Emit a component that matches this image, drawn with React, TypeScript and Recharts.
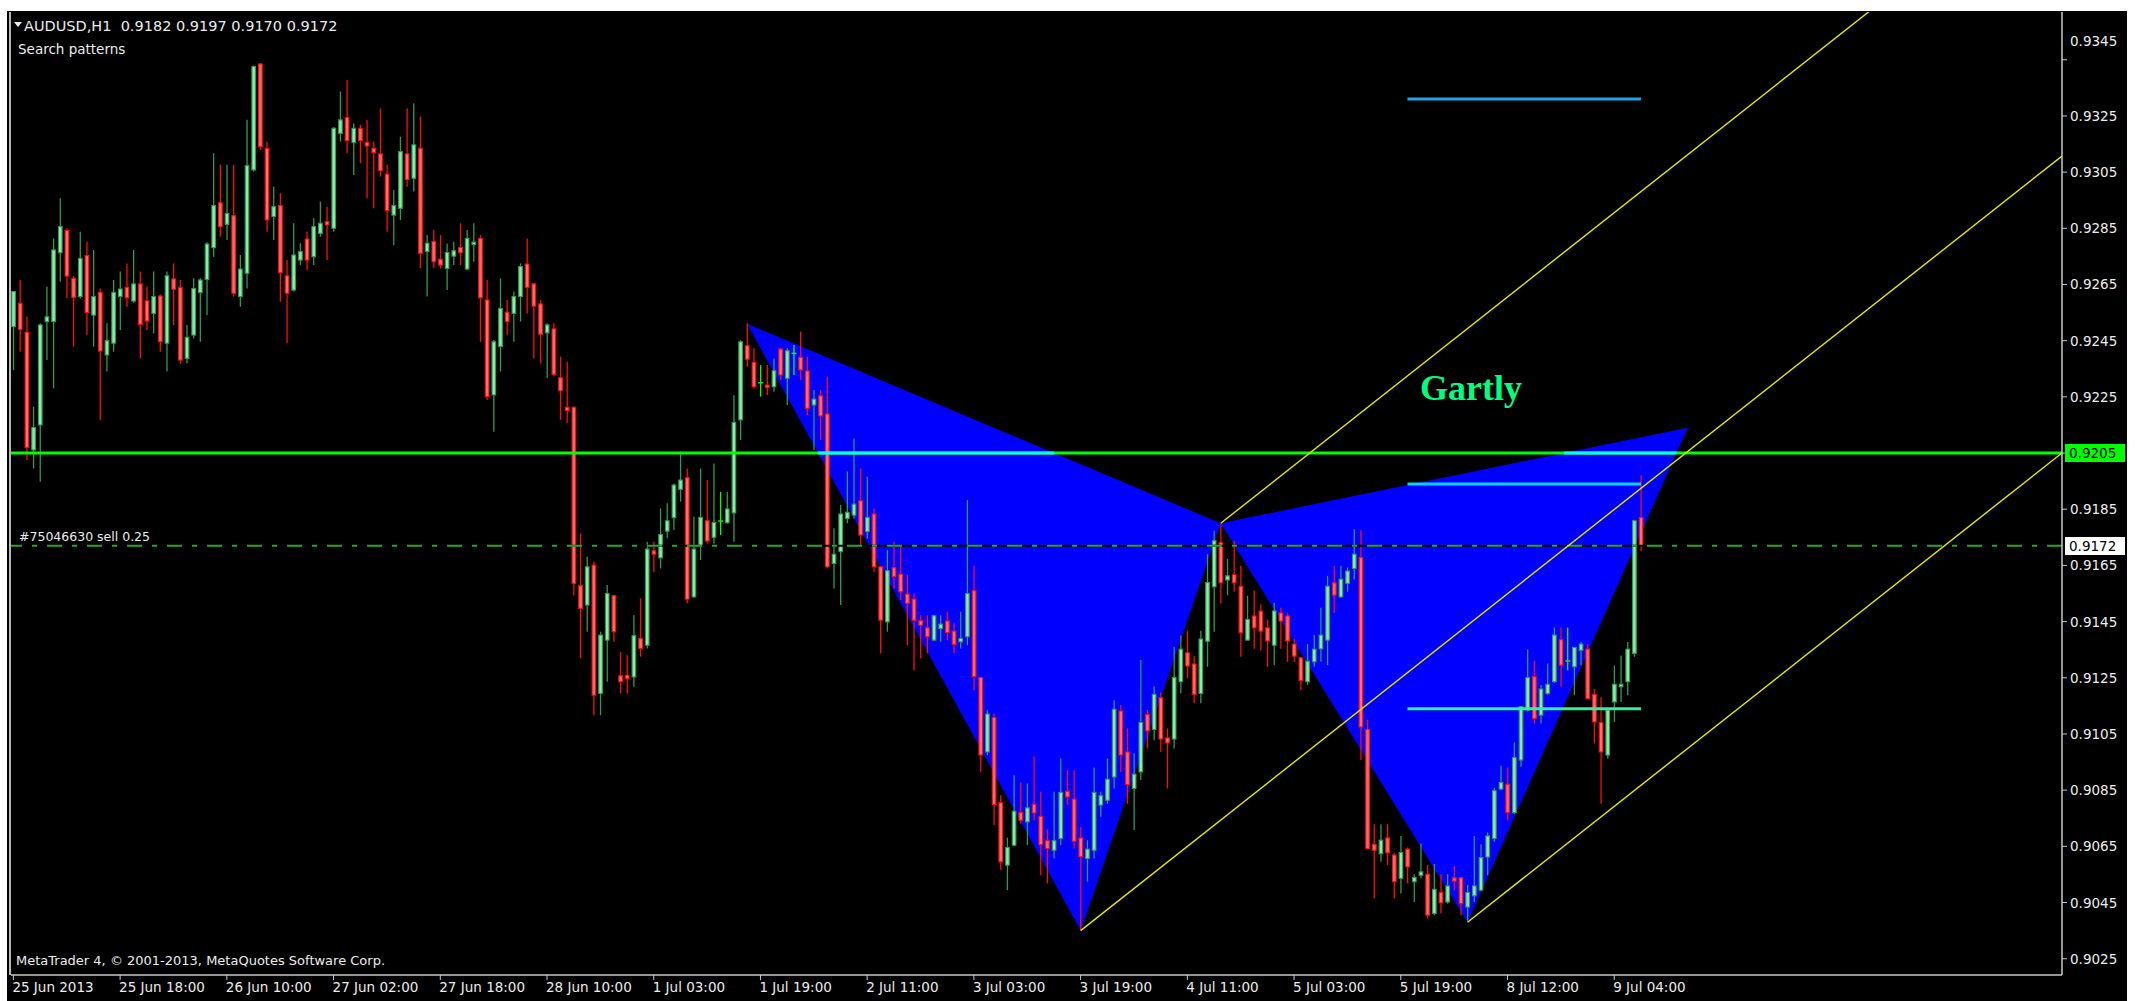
import React from "react";
import { ComposedChart, Bar, Area, XAxis, YAxis, ReferenceLine } from "recharts";

const W = 2141;
const H = 1001;
const PLOT = { left: 11, right: 2062, top: 12, bottom: 975 };
const X_DOMAIN: [number, number] = [-0.36, 307.13];
const Y_DOMAIN: [number, number] = [0.90192, 0.9362];

const FONT = "'DejaVu Sans', sans-serif";
const TEXT = "#ececec";
const AXIS = "#c8c8c8";

// AUDUSD H1 bars, 25 Jun 2013 .. 9 Jul 2013 08:00
const opens = [
  0.925, 0.92583, 0.9248, 0.92061, 0.9215, 0.92518, 0.92518, 0.92763, 0.92842, 0.92672,
  0.92607, 0.92753, 0.92541, 0.92622, 0.92399, 0.92441, 0.92607, 0.9264, 0.92591, 0.92652,
  0.92592, 0.92547, 0.92609, 0.92441, 0.9267, 0.92639, 0.92387, 0.9247, 0.92621, 0.92668,
  0.92781, 0.92941, 0.92864, 0.92895, 0.92607, 0.9269, 0.93058, 0.93435, 0.93135, 0.92892,
  0.92931, 0.92681, 0.9263, 0.92737, 0.92812, 0.92749, 0.92832, 0.92874, 0.9285, 0.93188,
  0.93245, 0.93155, 0.93206, 0.93156, 0.93135, 0.93115, 0.93043, 0.92897, 0.92921, 0.93115,
  0.93028, 0.93135, 0.92767, 0.92803, 0.9274, 0.92707, 0.92751, 0.92782, 0.92705, 0.92792,
  0.92814, 0.92595, 0.92257, 0.92429, 0.92551, 0.92547, 0.92607, 0.92723, 0.92652, 0.92581,
  0.92478, 0.92492, 0.92318, 0.92213, 0.92213, 0.91578, 0.91509, 0.91651, 0.91194, 0.91384,
  0.91542, 0.91257, 0.91259, 0.91253, 0.9139, 0.91366, 0.91702, 0.91677, 0.91772, 0.9182,
  0.91921, 0.91962, 0.91538, 0.9172, 0.91809, 0.9175, 0.91808, 0.91802, 0.91837, 0.92168,
  0.92432, 0.92373, 0.923, 0.92292, 0.92286, 0.9242, 0.92316, 0.92405, 0.92391, 0.92342,
  0.92221, 0.92254, 0.92189, 0.91657, 0.91699, 0.91817, 0.91829, 0.9188, 0.9177, 0.91833,
  0.91645, 0.91449, 0.91642, 0.91619, 0.91548, 0.9153, 0.91453, 0.91428, 0.91384, 0.91425,
  0.91452, 0.91416, 0.91378, 0.91396, 0.9156, 0.91251, 0.90986, 0.91109, 0.90805, 0.90583,
  0.90654, 0.9077, 0.90737, 0.908, 0.90757, 0.9067, 0.90636, 0.90678, 0.90846, 0.90818,
  0.9068, 0.90607, 0.90636, 0.90797, 0.90814, 0.90897, 0.91132, 0.90986, 0.90856, 0.90915,
  0.91119, 0.91066, 0.91179, 0.91036, 0.91032, 0.91236, 0.91339, 0.91299, 0.91194, 0.9138,
  0.91574, 0.91732, 0.91598, 0.91618, 0.91576, 0.91384, 0.9147, 0.91487, 0.91428, 0.91366,
  0.91481, 0.9147, 0.9137, 0.91321, 0.91236, 0.91307, 0.91353, 0.91384, 0.91588, 0.91538,
  0.91586, 0.91639, 0.91678, 0.91066, 0.90657, 0.90624, 0.9068, 0.90619, 0.90536, 0.9064,
  0.90524, 0.90547, 0.90551, 0.90411, 0.90486, 0.90452, 0.90538, 0.90538, 0.90434, 0.90474,
  0.90494, 0.90612, 0.90678, 0.90854, 0.90871, 0.9077, 0.90957, 0.91135, 0.91254, 0.91117,
  0.91194, 0.91236, 0.91386, 0.9131, 0.91289, 0.91348, 0.91352, 0.91191, 0.91091, 0.90975,
  0.91164, 0.91218, 0.91236, 0.91337, 0.9182,
];
const highs = [
  0.92625, 0.92666, 0.92535, 0.92215, 0.92512, 0.92642, 0.92814, 0.92957, 0.9285, 0.9268,
  0.92838, 0.92803, 0.92773, 0.92636, 0.92512, 0.92666, 0.92696, 0.92725, 0.92773, 0.92696,
  0.92642, 0.92696, 0.92615, 0.92696, 0.92725, 0.92666, 0.92506, 0.92672, 0.92672, 0.928,
  0.93117, 0.93076, 0.93076, 0.93076, 0.92755, 0.93236, 0.9343, 0.93438, 0.93159, 0.92998,
  0.92975, 0.92737, 0.92868, 0.92797, 0.92838, 0.92886, 0.92945, 0.92927, 0.9321, 0.93337,
  0.93378, 0.93224, 0.93218, 0.93236, 0.93159, 0.93277, 0.93076, 0.92986, 0.93176, 0.93277,
  0.93295, 0.93248, 0.92826, 0.92844, 0.92826, 0.92796, 0.92802, 0.92868, 0.92844, 0.92868,
  0.92826, 0.92666, 0.92452, 0.92672, 0.92595, 0.92625, 0.92725, 0.92814, 0.92655, 0.92595,
  0.92512, 0.92512, 0.92393, 0.92375, 0.92215, 0.91764, 0.91681, 0.91663, 0.91414, 0.9158,
  0.91545, 0.91342, 0.9133, 0.91473, 0.91533, 0.91734, 0.91734, 0.91853, 0.91871, 0.91942,
  0.92055, 0.91995, 0.91823, 0.91995, 0.91954, 0.92013, 0.91912, 0.91912, 0.92256, 0.92452,
  0.92512, 0.92423, 0.92363, 0.92363, 0.92387, 0.92425, 0.92423, 0.92435, 0.92482, 0.92393,
  0.92274, 0.92274, 0.92322, 0.91782, 0.91865, 0.91984, 0.92102, 0.91995, 0.91966, 0.91853,
  0.91648, 0.91705, 0.91734, 0.91722, 0.91616, 0.9155, 0.91473, 0.91473, 0.91474, 0.91473,
  0.91485, 0.91444, 0.91485, 0.91883, 0.91649, 0.91254, 0.91135, 0.91123, 0.90832, 0.90681,
  0.90903, 0.90877, 0.90874, 0.90969, 0.90844, 0.9071, 0.90844, 0.90963, 0.90921, 0.90921,
  0.90719, 0.90672, 0.90931, 0.90844, 0.90963, 0.9117, 0.91153, 0.9107, 0.90981, 0.91313,
  0.91136, 0.9122, 0.91198, 0.9107, 0.9136, 0.914, 0.91417, 0.91328, 0.91417, 0.9169,
  0.91773, 0.91797, 0.91673, 0.91738, 0.91649, 0.91542, 0.91561, 0.91512, 0.91458, 0.91517,
  0.91499, 0.91481, 0.91387, 0.91325, 0.9137, 0.91402, 0.91499, 0.91613, 0.91648, 0.91648,
  0.91643, 0.91779, 0.91775, 0.91101, 0.90729, 0.90729, 0.90729, 0.90627, 0.90687, 0.90646,
  0.90551, 0.9066, 0.90583, 0.90587, 0.90551, 0.90551, 0.9058, 0.9054, 0.90512, 0.90687,
  0.90657, 0.90699, 0.90859, 0.90937, 0.90931, 0.9102, 0.9115, 0.91352, 0.91311, 0.91224,
  0.91301, 0.91429, 0.91429, 0.91429, 0.91358, 0.91377, 0.9137, 0.9121, 0.91182, 0.91135,
  0.91293, 0.91329, 0.91377, 0.91813, 0.9197,
];
const lows = [
  0.92346, 0.92411, 0.92025, 0.91995, 0.91948, 0.92381, 0.9228, 0.9266, 0.92601, 0.92429,
  0.926, 0.9247, 0.92429, 0.92168, 0.9234, 0.92411, 0.92488, 0.92571, 0.92585, 0.92387,
  0.92488, 0.92476, 0.92411, 0.9234, 0.92506, 0.92369, 0.92369, 0.92458, 0.92446, 0.92541,
  0.92749, 0.9282, 0.92808, 0.92607, 0.92571, 0.92636, 0.93052, 0.93129, 0.92838, 0.92808,
  0.92589, 0.92441, 0.92625, 0.92719, 0.92702, 0.92719, 0.9282, 0.92737, 0.92838, 0.93159,
  0.93117, 0.9304, 0.93082, 0.92957, 0.92921, 0.93034, 0.92838, 0.9279, 0.9288, 0.92998,
  0.92981, 0.92708, 0.92607, 0.92708, 0.92707, 0.9263, 0.92719, 0.92719, 0.92701, 0.92731,
  0.92446, 0.92239, 0.92126, 0.9234, 0.9247, 0.92446, 0.92518, 0.92547, 0.92387, 0.92369,
  0.92316, 0.92325, 0.92168, 0.92156, 0.91544, 0.91319, 0.91414, 0.91117, 0.91117, 0.91236,
  0.91378, 0.91194, 0.91194, 0.91218, 0.91325, 0.91354, 0.91627, 0.91639, 0.91747, 0.91776,
  0.91877, 0.91515, 0.91535, 0.91669, 0.91728, 0.91728, 0.91758, 0.91799, 0.91734, 0.92096,
  0.92357, 0.9228, 0.92251, 0.92257, 0.92268, 0.9231, 0.92221, 0.92328, 0.9231, 0.92185,
  0.92061, 0.92096, 0.91639, 0.91568, 0.91509, 0.918, 0.91817, 0.91716, 0.91746, 0.91627,
  0.91337, 0.91414, 0.91568, 0.91527, 0.91366, 0.91277, 0.91319, 0.91337, 0.91381, 0.91378,
  0.91384, 0.91337, 0.91354, 0.91366, 0.91206, 0.90915, 0.90975, 0.90725, 0.90565, 0.90494,
  0.9065, 0.90731, 0.90654, 0.90743, 0.90547, 0.90518, 0.90607, 0.90654, 0.90797, 0.90642,
  0.90351, 0.90524, 0.90607, 0.90755, 0.90802, 0.90856, 0.90915, 0.90802, 0.90708, 0.90886,
  0.90998, 0.91028, 0.90986, 0.90856, 0.90998, 0.91194, 0.91248, 0.91159, 0.91159, 0.91289,
  0.91414, 0.91515, 0.91544, 0.91556, 0.91325, 0.91384, 0.91353, 0.91347, 0.91289, 0.91295,
  0.91353, 0.91307, 0.91307, 0.91206, 0.91224, 0.91289, 0.91307, 0.91295, 0.91481, 0.91535,
  0.91556, 0.916, 0.90957, 0.9064, 0.90464, 0.90595, 0.90583, 0.90464, 0.90482, 0.90518,
  0.90452, 0.90536, 0.90393, 0.90405, 0.90411, 0.90446, 0.90494, 0.90405, 0.90385, 0.90452,
  0.9049, 0.90547, 0.90666, 0.9085, 0.90743, 0.90765, 0.90933, 0.9113, 0.91087, 0.91087,
  0.9119, 0.91232, 0.91218, 0.91277, 0.91188, 0.91295, 0.91176, 0.91016, 0.90802, 0.90963,
  0.91093, 0.91164, 0.91188, 0.91325, 0.917,
];
const closes = [
  0.92625, 0.9249, 0.9207, 0.92141, 0.92506, 0.92535, 0.92773, 0.92856, 0.9268, 0.92604,
  0.92743, 0.9255, 0.92607, 0.92413, 0.9245, 0.92622, 0.92634, 0.92603, 0.92652, 0.92508,
  0.9252, 0.92607, 0.92446, 0.92681, 0.92633, 0.92381, 0.92462, 0.92636, 0.92666, 0.92794,
  0.92931, 0.92856, 0.92903, 0.92619, 0.92705, 0.93073, 0.93426, 0.93141, 0.9288, 0.92927,
  0.92692, 0.92619, 0.92755, 0.92767, 0.92737, 0.92856, 0.92868, 0.92862, 0.93206, 0.93236,
  0.93162, 0.93206, 0.93162, 0.93143, 0.93119, 0.93055, 0.92913, 0.92931, 0.93123, 0.93024,
  0.93147, 0.92761, 0.92797, 0.92731, 0.92719, 0.92764, 0.9277, 0.92763, 0.92814, 0.92801,
  0.92603, 0.92251, 0.92446, 0.92565, 0.92518, 0.92607, 0.92714, 0.9264, 0.92573, 0.92473,
  0.92506, 0.9233, 0.92272, 0.92201, 0.91586, 0.91497, 0.91645, 0.91188, 0.91402, 0.9155,
  0.91414, 0.91236, 0.91248, 0.914, 0.91354, 0.91708, 0.9169, 0.9176, 0.91809, 0.91936,
  0.91954, 0.9153, 0.91708, 0.91821, 0.91737, 0.91803, 0.91808, 0.91851, 0.92159, 0.92446,
  0.92384, 0.92286, 0.923, 0.92284, 0.92343, 0.92328, 0.92414, 0.92405, 0.92346, 0.92209,
  0.92242, 0.92182, 0.91645, 0.9169, 0.91833, 0.91839, 0.91868, 0.91758, 0.91821, 0.91645,
  0.91455, 0.91631, 0.9161, 0.91556, 0.91515, 0.91455, 0.91437, 0.91396, 0.91471, 0.91441,
  0.91411, 0.91369, 0.9139, 0.9155, 0.91254, 0.90975, 0.91121, 0.90799, 0.90595, 0.90646,
  0.90775, 0.90743, 0.90787, 0.90769, 0.90656, 0.90642, 0.9067, 0.90842, 0.90826, 0.90668,
  0.90613, 0.9064, 0.90842, 0.9083, 0.90889, 0.91138, 0.90975, 0.9087, 0.90907, 0.91091,
  0.91061, 0.91191, 0.91032, 0.91018, 0.91251, 0.91352, 0.91292, 0.91191, 0.91388, 0.91589,
  0.91738, 0.91588, 0.91613, 0.91588, 0.9141, 0.91458, 0.91428, 0.91416, 0.91381, 0.91488,
  0.91452, 0.91381, 0.91327, 0.9124, 0.91309, 0.91352, 0.91402, 0.91576, 0.91544, 0.91601,
  0.9163, 0.9169, 0.91075, 0.90642, 0.90636, 0.90672, 0.90627, 0.90524, 0.90628, 0.90577,
  0.90539, 0.90559, 0.90405, 0.90497, 0.90449, 0.90509, 0.90526, 0.90446, 0.90486, 0.90509,
  0.9061, 0.90687, 0.90848, 0.90877, 0.9077, 0.90966, 0.91147, 0.91251, 0.91105, 0.9121,
  0.91227, 0.91402, 0.91295, 0.9131, 0.91358, 0.9137, 0.91176, 0.91093, 0.90986, 0.91135,
  0.91227, 0.91227, 0.91352, 0.91809, 0.9172,
];

const priceTicks = [
  0.9025, 0.9045, 0.9065, 0.9085, 0.9105, 0.9125, 0.9145, 0.9165, 0.9185,
  0.9205, 0.9225, 0.9245, 0.9265, 0.9285, 0.9305, 0.9325, 0.9345,
];
const timeTicks = [0, 16, 32, 48, 64, 80, 96, 112, 128, 144, 160, 176, 192, 208, 224, 240];
const timeLabels = [
  "25 Jun 2013", "25 Jun 18:00", "26 Jun 10:00", "27 Jun 02:00", "27 Jun 18:00",
  "28 Jun 10:00", "1 Jul 03:00", "1 Jul 19:00", "2 Jul 11:00", "3 Jul 03:00",
  "3 Jul 19:00", "4 Jul 11:00", "5 Jul 03:00", "5 Jul 19:00", "8 Jul 12:00", "9 Jul 04:00",
];

// Gartley pivots X, A, B, C, D
const pivotBars = [110, 160, 181, 218, 251];
const pivotPrices = [0.9251, 0.9035, 0.918, 0.9038, 0.9214];

// parallel channel lines drawn from B, A and C
const channelPivots = [2, 1, 3];
const channelSlope = 0.0001874; // price per bar

const levelPrice = 0.9205;
const orderPrice = 0.9172;
const lastPrice = 0.9172;
const targetPrices = [0.9331, 0.9194, 0.9114];
const targetColors = ["#1ca6e6", "#00d4ff", "#30f0a0"];
const targetBars = [209, 244];

const candles = opens.map((o, i) => ({ i, o, h: highs[i], l: lows[i], c: closes[i] }));

const pivots = pivotBars.map((i, k) => ({ i, v: pivotPrices[k] }));
const [pX, pA, pB, pC, pD] = pivots;
const lineAt = (a: any, b: any, i: number) => a.v + ((b.v - a.v) * (i - a.i)) / (b.i - a.i);
const crossAt = (a: any, b: any, v: number) => a.i + ((v - a.v) * (b.i - a.i)) / (b.v - a.v);

const xabFill = [
  { i: pX.i, r: [pX.v, pX.v] },
  { i: pA.i, r: [pA.v, lineAt(pX, pB, pA.i)] },
  { i: pB.i, r: [pB.v, pB.v] },
];
const bcdFill = [
  { i: pB.i, r: [pB.v, pB.v] },
  { i: pC.i, r: [pC.v, lineAt(pB, pD, pC.i)] },
  { i: pD.i, r: [pD.v, pD.v] },
];
// part of the level line lying under the blue fill shows cyan
const cyanRuns = [
  [crossAt(pX, pA, levelPrice), crossAt(pX, pB, levelPrice)],
  [crossAt(pB, pD, levelPrice), crossAt(pC, pD, levelPrice)],
];

const yOf = (p: number) =>
  PLOT.top + ((Y_DOMAIN[1] - p) / (Y_DOMAIN[1] - Y_DOMAIN[0])) * (PLOT.bottom - PLOT.top);

function Candle(props: any) {
  const { x, y, width, height, payload } = props;
  if (!payload || height == null || isNaN(y)) return null;
  const { o, h, l, c } = payload;
  const top = Math.min(y, y + height);
  const span = Math.abs(height);
  const k = h > l ? span / (h - l) : 0;
  const py = (p: number) => top + (h - p) * k;
  const cx = x + width / 2;
  const bTop = py(Math.max(o, c));
  const bBot = py(Math.min(o, c));
  if (o === c) {
    return (
      <g>
        <line x1={cx} x2={cx} y1={top} y2={top + span} stroke="#00ff00" strokeWidth={1.3} />
        <line x1={cx - 2.5} x2={cx + 2.5} y1={bTop} y2={bTop} stroke="#00ff00" strokeWidth={1.4} />
      </g>
    );
  }
  const up = c > o;
  const edge = up ? "#2f9a5a" : "#ff0c0c";
  const fill = up ? "#8eeaa4" : "#ff6f6f";
  return (
    <g>
      <line x1={cx} x2={cx} y1={top} y2={top + span} stroke={edge} strokeWidth={1.3} />
      <rect x={cx - 1.8} y={bTop} width={3.6} height={Math.max(bBot - bTop, 1)} fill={fill} stroke={edge} strokeWidth={1.1} />
    </g>
  );
}

function PriceTick(props: any) {
  const { x, y, payload } = props;
  // the top label is pushed up to the chart edge, as the terminal does
  const ty = y - PLOT.top < 60 ? PLOT.top + 29 : y;
  return (
    <g>
      <line x1={x} x2={x + 5} y1={y} y2={y} stroke={AXIS} strokeWidth={1} />
      <text x={x + 8} y={ty + 5} fill={TEXT} fontSize={13.5} fontFamily={FONT}>
        {payload.value.toFixed(4)}
      </text>
    </g>
  );
}

function TimeTick(props: any) {
  const { x, y, payload } = props;
  const label = timeLabels[timeTicks.indexOf(payload.value)];
  return (
    <g>
      <line x1={x} x2={x} y1={y} y2={y + 5} stroke={AXIS} strokeWidth={1} />
      <text x={x - 1} y={y + 17} fill={TEXT} fontSize={13.5} fontFamily={FONT}>
        {label}
      </text>
    </g>
  );
}

function PriceTag({ price, bg }: { price: number; bg: string }) {
  return (
    <div
      style={{
        position: "absolute", left: 2065, top: yOf(price) - 9, width: 60, height: 18,
        background: bg, color: "#000", fontFamily: FONT, fontSize: 13.5, lineHeight: "18px",
        paddingLeft: 4, boxSizing: "border-box",
      }}
    >
      {price.toFixed(4)}
    </div>
  );
}

const label: React.CSSProperties = {
  position: "absolute", color: TEXT, fontFamily: FONT, fontSize: 13.5, whiteSpace: "pre", lineHeight: "16px",
};

export default function App() {
  return (
    <div style={{ position: "absolute", left: 0, top: 0, width: W, height: H, background: "#fff", overflow: "hidden" }}>
      <div style={{ position: "absolute", left: 7, top: 11, width: 2120, height: 990, background: "#000" }} />
      <div style={{ position: "absolute", left: 9, top: 12, width: 1.5, height: PLOT.bottom - 12, background: "#b8b8b8" }} />

      <ComposedChart
        width={W}
        height={H}
        data={candles}
        margin={{ top: PLOT.top, left: PLOT.left, right: 0, bottom: 0 }}
        style={{ position: "absolute", left: 0, top: 0 }}
      >
        <XAxis
          dataKey="i"
          type="number"
          domain={X_DOMAIN}
          allowDataOverflow
          ticks={timeTicks}
          interval={0}
          height={H - PLOT.bottom}
          tickSize={0}
          tickMargin={0}
          tick={<TimeTick />}
          axisLine={{ stroke: AXIS, strokeWidth: 1.5 }}
        />
        <YAxis
          orientation="right"
          type="number"
          domain={Y_DOMAIN}
          allowDataOverflow
          ticks={priceTicks}
          interval={0}
          width={W - PLOT.right}
          tickSize={0}
          tickMargin={0}
          tick={<PriceTick />}
          axisLine={{ stroke: AXIS, strokeWidth: 1.5 }}
        />

        <ReferenceLine y={levelPrice} stroke="#00ff00" strokeWidth={3} ifOverflow="visible" />
        <Area data={xabFill} dataKey="r" type="linear" stroke="none" fill="#0000ff" fillOpacity={1} isAnimationActive={false} dot={false} activeDot={false} />
        <Area data={bcdFill} dataKey="r" type="linear" stroke="none" fill="#0000ff" fillOpacity={1} isAnimationActive={false} dot={false} activeDot={false} />
        {cyanRuns.map(([a, b], k) => (
          <ReferenceLine key={"cy" + k} segment={[{ x: a, y: levelPrice }, { x: b, y: levelPrice }]} stroke="#00ffff" strokeWidth={3} ifOverflow="hidden" />
        ))}
        <ReferenceLine y={orderPrice} stroke="#000" strokeWidth={2} ifOverflow="visible" />
        <ReferenceLine y={orderPrice} stroke="#2aa52a" strokeWidth={2} strokeDasharray="15 10 5 10" ifOverflow="visible" />

        <Bar dataKey={(d: any) => [d.l, d.h]} barSize={5} shape={<Candle />} isAnimationActive={false} />

        {channelPivots.map((k) => {
          const p = pivots[k];
          const end = X_DOMAIN[1];
          return (
            <ReferenceLine
              key={"ch" + k}
              segment={[{ x: p.i, y: p.v }, { x: end, y: p.v + channelSlope * (end - p.i) }]}
              stroke="#e8e800"
              strokeWidth={1.4}
              ifOverflow="hidden"
            />
          );
        })}
        {targetPrices.map((v, k) => (
          <ReferenceLine
            key={"tg" + k}
            segment={[{ x: targetBars[0], y: v }, { x: targetBars[1], y: v }]}
            stroke={targetColors[k]}
            strokeWidth={3}
            ifOverflow="hidden"
          />
        ))}
      </ComposedChart>

      <svg style={{ position: "absolute", left: 14, top: 22 }} width={8} height={6}>
        <polygon points="0,0 8,0 4,5" fill={TEXT} />
      </svg>
      <div style={{ ...label, left: 24, top: 18, fontSize: 14.5 }}>{"AUDUSD,H1  0.9182 0.9197 0.9170 0.9172"}</div>
      <div style={{ ...label, left: 18, top: 41 }}>Search patterns</div>
      <div style={{ ...label, left: 19, top: yOf(orderPrice) - 17, fontSize: 12.5 }}>#75046630 sell 0.25</div>
      <div style={{ ...label, left: 16, top: 953, fontSize: 13 }}>MetaTrader 4, © 2001-2013, MetaQuotes Software Corp.</div>
      <div
        style={{
          position: "absolute", left: 1420, top: 368, color: "#00ff7f", fontFamily: "'Liberation Serif', serif",
          fontWeight: 700, fontSize: 36, lineHeight: "40px",
        }}
      >
        Gartly
      </div>
      <PriceTag price={levelPrice} bg="#00ff00" />
      <PriceTag price={lastPrice} bg="#ffffff" />
    </div>
  );
}
